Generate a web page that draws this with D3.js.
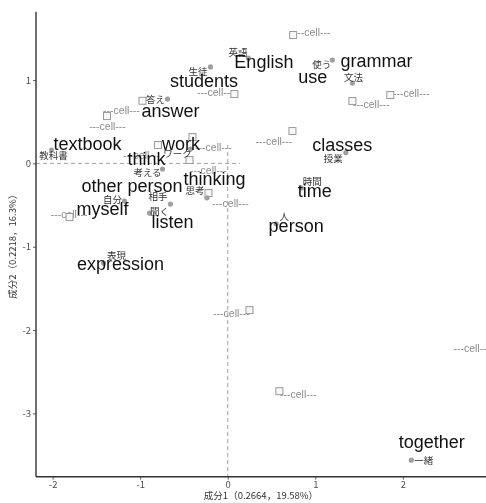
<!DOCTYPE html>
<html>
<head>
<meta charset="utf-8">
<script src="https://cdn.jsdelivr.net/npm/d3@7"></script>
<style>
  html, body { margin: 0; padding: 0; background: #fff; }
  svg { display: block; will-change: transform; }
</style>
</head>
<body>
<svg id="chart" width="486" height="503"></svg>
<script>
// Correspondence analysis: word coordinates on components 1 and 2
const words = ["教科書", "英語", "生徒", "答え", "使う", "文法", "授業", "時間", "人", "一緒",
               "思考", "ワーク", "考える", "相手", "自分", "聞く", "表現"];
const translations = ["textbook", "English", "students", "answer", "use", "grammar", "classes", "time", "person", "together",
                      "thinking", "work", "think", "other person", "myself", "listen", "expression"];
const wordDim1 = [-2.012, 0.236, -0.197, -0.688, 1.195, 1.424, 1.349, 0.841, 0.553, 2.097,
                  -0.237, -0.426, -0.745, -0.654, -1.179, -0.893, -1.418];
const wordDim2 = [0.160, 1.264, 1.157, 0.772, 1.240, 0.964, 0.130, -0.297, -0.725, -3.562,
                  -0.413, 0.172, -0.068, -0.488, -0.453, -0.597, -1.197];

// Column (cell) coordinates
const cellNames = ["---cell---", "---cell---", "---cell---", "---cell---", "---cell---",
                   "---cell---", "---cell---", "---cell---", "---cell---", "---cell---",
                   "---cell---", "---cell---", "---cell---", "---cell---", "---cell---"];
const cellDim1 = [0.747, 0.076, -0.974, -1.379, -0.403, -0.797, -0.437, -0.220, 0.739, 1.857,
                  1.424, -1.807, 0.248, 0.590, 3.005];
const cellDim2 = [1.540, 0.832, 0.751, 0.568, 0.316, 0.220, 0.040, -0.356, 0.388, 0.820,
                  0.748, -0.644, -1.761, -2.734, -2.181];

const xTicks = [-2, -1, 0, 1, 2];
const yTicks = [-3, -2, -1, 0, 1];
const xTitle = "成分1（0.2664，19.58%）";
const yTitle = "成分2（0.2218，16.3%）";

// Reference lines through the origin (start/end values along each line)
const hLineExtent = [-2.19, 0.14];
const vLineExtent = [0.22, -3.76];

// Label placement offsets in pixels, relative to each point
const jpNudge = [[2, 9], [-10.5, -2], [-12.5, 8], [-12, 4], [-10.5, 8], [1, -2], [-12.5, 9], [11, -3], [8, -4], [12.5, 4],
                 [-12, -3.5], [-13, 8], [-15, 7], [-12.5, -4], [-12, 2], [10, 2], [13, -4]];
const enNudge = [[36, 0], [15.5, 10], [-6.5, 20], [3, 18], [-19.5, 23], [24, -16], [-3.5, -1.5], [13.5, 9], [20, 8], [20.5, -12],
                 [7.5, -13], [-9.5, 1], [-16, -4], [-38.5, -12], [-22, 14], [23, 15], [17, 7]];
const cellNudge = [[19, -3], [-19, -2], [-21, 10], [0.5, 10], [21, 10], [-16.5, 10], [19, 10], [22, 10], [-18.5, 10], [21, -2],
                   [19, 3], [-0.5, -2.5], [-18, 3], [19, 3], [-19, 3]];

const svg = d3.select("#chart");
const W = 486, H = 503;
const margin = { left: 36, right: 0, top: 11.7, bottom: 26.3 };

const x = d3.scaleLinear().domain([-2.19, 2.95]).range([margin.left, W - margin.right]);
const y = d3.scaleLinear().domain([-3.76, 1.82]).range([H - margin.bottom, margin.top]);

const latin = "'Liberation Sans', Arial, sans-serif";
const cjk = "'Noto Sans CJK JP', 'Noto Sans', sans-serif";

// white background
svg.append("rect").attr("width", W).attr("height", H).attr("fill", "#fff");

// dashed origin lines
svg.append("line")
  .attr("x1", x(hLineExtent[0])).attr("x2", x(hLineExtent[1]))
  .attr("y1", y(0)).attr("y2", y(0))
  .attr("stroke", "#8a8a8a").attr("stroke-width", 0.8).attr("stroke-dasharray", "4,3");
svg.append("line")
  .attr("x1", x(0)).attr("x2", x(0))
  .attr("y1", y(vLineExtent[0])).attr("y2", y(vLineExtent[1]))
  .attr("stroke", "#8a8a8a").attr("stroke-width", 0.8).attr("stroke-dasharray", "4,3");

// axes (plain hyphen-minus in tick labels)
const tickText = d => String(d);
const xAxis = d3.axisBottom(x).tickValues(xTicks).tickSize(3).tickPadding(2).tickFormat(tickText);
const yAxis = d3.axisLeft(y).tickValues(yTicks).tickSize(3).tickPadding(2).tickFormat(tickText);

const gx = svg.append("g").attr("transform", `translate(0,${y.range()[0]})`).call(xAxis);
const gy = svg.append("g").attr("transform", `translate(${margin.left},0)`).call(yAxis);
[gx, gy].forEach(g => {
  g.select(".domain").attr("stroke", "#333").attr("stroke-width", 1.4);
  g.selectAll(".tick line").attr("stroke", "#333").attr("stroke-width", 0.8);
  g.selectAll(".tick text").attr("fill", "#4d4d4d").style("font-family", cjk).style("font-size", "9.5px");
});
gx.select(".domain").attr("d", `M${x.range()[0]},0H${x.range()[1]}`);
gy.select(".domain").attr("d", `M0,${y.range()[1]}V${y.range()[0]}`);

// axis titles
svg.append("text")
  .attr("x", (x.range()[0] + x.range()[1]) / 2).attr("y", 499)
  .attr("text-anchor", "middle").attr("fill", "#333")
  .style("font-family", cjk).style("font-size", "9.5px")
  .text(xTitle);
svg.append("text")
  .attr("transform", `translate(16,${(y.range()[0] + y.range()[1]) / 2}) rotate(-90)`)
  .attr("text-anchor", "middle").attr("fill", "#333")
  .style("font-family", cjk).style("font-size", "9.5px")
  .text(yTitle);

// cell points and labels
const cells = cellNames.map((n, i) => ({ name: n, d1: cellDim1[i], d2: cellDim2[i], nudge: cellNudge[i] }));
svg.append("g").selectAll("text").data(cells).join("text")
  .attr("x", d => x(d.d1) + d.nudge[0])
  .attr("y", d => y(d.d2) + d.nudge[1] + 3.5)
  .attr("text-anchor", "middle").attr("fill", "#8c8c8c")
  .style("font-family", latin).style("font-size", "10.5px")
  .text(d => d.name);
svg.append("g").selectAll("rect").data(cells).join("rect")
  .attr("x", d => x(d.d1) - 3.5).attr("y", d => y(d.d2) - 3.5)
  .attr("width", 7).attr("height", 7)
  .attr("fill", "#f7f7f7").attr("stroke", "#9a9a9a").attr("stroke-width", 1);

// word points and labels
const wd = words.map((w, i) => ({ jp: w, en: translations[i], d1: wordDim1[i], d2: wordDim2[i], jn: jpNudge[i], en2: enNudge[i] }));
svg.append("g").selectAll("circle").data(wd).join("circle")
  .attr("cx", d => x(d.d1)).attr("cy", d => y(d.d2)).attr("r", 2.6)
  .attr("fill", "#a0a0a0");
svg.append("g").selectAll("text").data(wd).join("text")
  .attr("x", d => x(d.d1) + d.jn[0])
  .attr("y", d => y(d.d2) + d.jn[1])
  .attr("text-anchor", "middle").attr("fill", "#333")
  .style("font-family", cjk).style("font-size", "9.5px")
  .text(d => d.jp);
svg.append("g").selectAll("text").data(wd).join("text")
  .attr("x", d => x(d.d1) + d.en2[0])
  .attr("y", d => y(d.d2) + d.en2[1])
  .attr("text-anchor", "middle").attr("fill", "#111")
  .style("font-family", latin).style("font-size", "18px")
  .text(d => d.en);
</script>
</body>
</html>
